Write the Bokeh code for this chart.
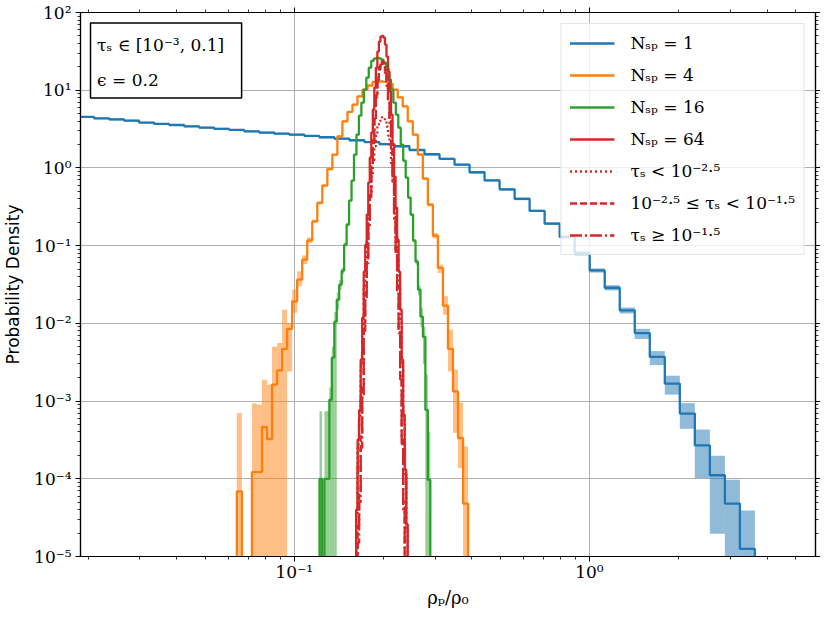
import numpy as np
from bokeh.plotting import figure
from bokeh.models import (FixedTicker, CustomJSTickFormatter, LogAxis, Legend,
                          LegendItem, BoxAnnotation, Label)
from bokeh.embed import file_html
from bokeh.resources import INLINE

# ---------------- data ----------------
# bin ranges: log10 of first/last edge, one value per bin
blue_edges_log = (-1.7294, 0.5611)
blue_vals = [4.53, 4.35, 4.22, 4.06, 3.83, 3.68, 3.57, 3.43, 3.30, 3.18,
             3.08, 2.96, 2.85, 2.76, 2.68, 2.58, 2.48, 2.38, 2.27, 2.15,
             2.02, 1.90, 1.70, 1.50, 1.31, 1.10, 0.88, 0.69, 0.53, 0.40,
             0.28, 0.192, 0.130, 0.080, 0.048, 0.0287, 0.0147, 0.0075, 0.0037, 0.00168,
             0.00069, 0.000269, 0.000111, 4.8e-5, 1.25e-5]
blue_hi = [4.66, 4.48, 4.35, 4.18, 3.94, 3.79, 3.68, 3.53, 3.40, 3.28,
           3.17, 3.05, 2.94, 2.84, 2.76, 2.66, 2.55, 2.45, 2.34, 2.21,
           2.08, 1.96, 1.75, 1.55, 1.35, 1.13, 0.91, 0.71, 0.55, 0.415,
           0.29, 0.200, 0.136, 0.085, 0.051, 0.031, 0.0160, 0.0085, 0.0044, 0.00212,
           0.00094, 0.00043, 0.000198, 9.7e-5, 3.9e-5]
blue_lo = [4.40, 4.22, 4.09, 3.94, 3.72, 3.57, 3.46, 3.33, 3.20, 3.08,
           2.99, 2.87, 2.76, 2.68, 2.60, 2.50, 2.41, 2.31, 2.20, 2.09,
           1.96, 1.84, 1.65, 1.45, 1.27, 1.07, 0.85, 0.67, 0.51, 0.385,
           0.27, 0.184, 0.124, 0.075, 0.045, 0.0265, 0.0134, 0.0063, 0.0029, 0.00121,
           0.00044, 0.000102, 1.96e-5, 0, 0]

orange_edges_log = (-1.1946, -0.411)
orange_vals = [6.9e-5, 0, 0, 1.22e-4, 1.22e-4, 4.64e-4, 3.25e-4, 1.63e-3, 2.48e-3, 4.69e-3,
               8.47e-3, 0.0192, 0.0365, 0.066, 0.117, 0.205, 0.355, 0.592, 0.966, 1.48,
               2.55, 3.98, 5.26, 6.53, 8.34, 10.2, 11.5, 12.8, 13.0, 12.8,
               12.1, 10.2, 8.1, 6.2, 3.98, 2.68, 1.48, 0.73, 0.337, 0.134,
               0.0516, 0.0169, 4.69e-3, 1.33e-3, 3.35e-4, 4.8e-5]
orange_hi = [7.0e-4, 0, 0, 9.4e-4, 9.0e-4, 1.88e-3, 1.63e-3, 5.0e-3, 5.6e-3, 0.0150,
             0.0101, 0.0272, 0.0467, 0.075, 0.127, 0.215, 0.37, 0.61, 0.99, 1.52,
             2.62, 4.08, 5.38, 6.68, 8.52, 10.4, 11.7, 13.0, 13.2, 13.0,
             12.35, 10.4, 8.3, 6.35, 4.08, 2.76, 1.53, 0.76, 0.355, 0.145,
             0.0569, 0.0223, 8.3e-3, 2.54e-3, 9.5e-4, 2.6e-4]
orange_lo = [0, 0, 0, 0, 0, 0, 0, 0, 0, 0,
             2.4e-3, 0.0137, 0.030, 0.058, 0.108, 0.195, 0.34, 0.575, 0.94, 1.44,
             2.48, 3.88, 5.14, 6.38, 8.16, 10.0, 11.3, 12.6, 12.8, 12.6,
             11.85, 10.0, 7.9, 6.05, 3.88, 2.6, 1.43, 0.70, 0.32, 0.124,
             0.0445, 0.0129, 2.4e-3, 3.9e-4, 1.38e-4, 0]

green_edges_log = (-0.9144, -0.539)
green_vals = [1.0e-4, 0, 1.0e-4, 1.0e-4, 1.04e-3, 3.62e-3, 0.0105, 0.0202, 0.0315, 0.0477,
              0.103, 0.186, 0.379, 0.686, 1.48, 2.68, 4.71, 6.92, 10.2, 14.5,
              19.5, 23.8, 25.5, 26.1, 25.7, 24.8, 22.7, 19.0, 13.7, 10.2,
              6.92, 4.85, 3.30, 2.0, 1.24, 0.75, 0.415, 0.25, 0.116, 0.0622,
              0.0272, 0.0122, 6.7e-3, 7.7e-4, 9.7e-5]
green_hi = [7.4e-4, 0, 7.4e-4, 7.5e-4, 1.5e-3, 5.0e-3, 0.014, 0.025, 0.036, 0.052,
            0.109, 0.195, 0.39, 0.70, 1.51, 2.73, 4.8, 7.05, 10.4, 14.8,
            19.9, 24.3, 26.0, 26.6, 26.2, 25.3, 23.2, 19.4, 14.0, 10.4,
            7.05, 4.95, 3.37, 2.04, 1.27, 0.77, 0.43, 0.26, 0.122, 0.067,
            0.031, 0.016, 9.0e-3, 2.2e-3, 4.0e-4]
green_lo = [0, 0, 0, 0, 0, 0, 0, 0.015, 0.027, 0.043,
            0.097, 0.177, 0.368, 0.672, 1.45, 2.63, 4.62, 6.79, 10.0, 14.2,
            19.1, 23.3, 25.0, 25.6, 25.2, 24.3, 22.2, 18.6, 13.4, 10.0,
            6.79, 4.75, 3.23, 1.96, 1.21, 0.73, 0.40, 0.24, 0.110, 0.057,
            0.023, 9.0e-3, 3.0e-3, 0, 0]

red_edges_log = (-0.7904, -0.6155)
red_vals = [4.0e-5, 3.2e-4, 7.7e-4, 3.4e-3, 0.0118, 0.0463, 0.103, 0.251, 0.647, 1.36,
            2.85, 5.63, 10.8, 19.5, 31.4, 42.2, 49.0, 50.0, 47.5, 38.6,
            27.1, 17.3, 9.6, 4.85, 2.0, 0.773, 0.308, 0.119, 0.0463, 0.015,
            3.4e-3, 6.7e-4, 1.31e-4, 2.6e-5]
red_hi = [1.5e-4, 6.0e-4, 1.1e-3, 4.0e-3, 0.0128, 0.048, 0.106, 0.258, 0.665, 1.40,
          2.93, 5.78, 11.1, 20.0, 32.2, 43.3, 50.3, 51.3, 48.7, 39.6,
          27.8, 17.8, 9.85, 4.98, 2.06, 0.795, 0.318, 0.123, 0.048, 0.0158,
          3.8e-3, 8.5e-4, 3.0e-4, 1.2e-4]
red_lo = [0, 1.2e-4, 4.5e-4, 2.8e-3, 0.0108, 0.0445, 0.100, 0.244, 0.629, 1.32,
          2.77, 5.48, 10.5, 19.0, 30.6, 41.1, 47.7, 48.7, 46.3, 37.6,
          26.4, 16.8, 9.35, 4.72, 1.94, 0.751, 0.298, 0.115, 0.0445, 0.0142,
          3.0e-3, 5.0e-4, 2e-5, 0]
red_small = [3.5e-5, 2.8e-4, 6.5e-4, 2.8e-3, 9.0e-3, 0.028, 0.058, 0.12, 0.25, 0.45,
             0.80, 1.25, 1.90, 2.70, 3.40, 4.00, 4.40, 4.50, 4.40, 4.00,
             3.40, 2.60, 1.80, 1.10, 0.62, 0.30, 0.14, 0.065, 0.030, 0.011,
             2.8e-3, 5.8e-4, 1.15e-4, 2.3e-5]
red_mid = [3e-6, 2.5e-5, 7e-5, 3.5e-4, 1.6e-3, 0.010, 0.025, 0.072, 0.22, 0.49,
           1.10, 2.30, 4.6, 8.7, 14.5, 19.8, 23.1, 23.6, 22.4, 18.0,
           12.4, 7.7, 4.1, 2.0, 0.74, 0.25, 0.09, 0.029, 8.5e-3, 2.1e-3,
           3.2e-4, 5e-5, 9e-6, 2e-6]
red_large = [2e-6, 1.5e-5, 5e-5, 2.5e-4, 1.2e-3, 0.008, 0.020, 0.059, 0.18, 0.42,
             0.95, 2.08, 4.3, 8.1, 13.5, 18.4, 21.5, 21.9, 20.7, 16.6,
             11.3, 7.0, 3.7, 1.75, 0.64, 0.22, 0.08, 0.025, 7.5e-3, 1.9e-3,
             2.8e-4, 4e-5, 7e-6, 1e-6]

series_labels = ["Nₛₚ = 1", "Nₛₚ = 4", "Nₛₚ = 16", "Nₛₚ = 64"]
tau_labels = ["τₛ < 10⁻²·⁵", "10⁻²·⁵ ≤ τₛ < 10⁻¹·⁵", "τₛ ≥ 10⁻¹·⁵"]
x_tick_values = [0.1, 1.0]
x_tick_labels = ["10⁻¹", "10⁰"]
y_tick_values = [1e-5, 1e-4, 1e-3, 1e-2, 1e-1, 1e0, 1e1, 1e2]
y_tick_labels = ["10⁻⁵", "10⁻⁴", "10⁻³", "10⁻²", "10⁻¹", "10⁰", "10¹", "10²"]
box_lines = ["τₛ ∈ [10⁻³, 0.1]", "ϵ = 0.2"]

# ---------------- styling ----------------
C_BLUE, C_ORANGE, C_GREEN, C_RED = "#1f77b4", "#ff7f0e", "#2ca02c", "#d62728"
FLOOR = 1e-9
LW = 2.3
SERIF = "DejaVu Serif"

def edges_of(rng, n):
    return np.logspace(rng[0], rng[1], n + 1)

def step_xy(edges, vals):
    v = np.where(np.asarray(vals, float) > 0, vals, FLOOR)
    xs = np.repeat(edges, 2)
    ys = np.concatenate([[FLOOR], np.repeat(v, 2), [FLOOR]])
    return xs, ys

def floored(a):
    a = np.asarray(a, float)
    return np.where(a > 0, a, FLOOR)

p = figure(width=820, height=610, x_axis_type="log", y_axis_type="log",
           x_range=(0.01886, 5.84), y_range=(1e-5, 100),
           output_backend="svg", toolbar_location=None,
           min_border_left=79, min_border_right=0, min_border_top=12, min_border_bottom=0)
p.background_fill_color = "white"
p.outline_line_color = "black"
p.outline_line_width = 1.2

xminor = [m * 10.0 ** e for e in range(-2, 1) for m in range(2, 10)]
yminor = [m * 10.0 ** e for e in range(-5, 2) for m in range(2, 10)]
xticker = FixedTicker(ticks=x_tick_values, minor_ticks=xminor)
yticker = FixedTicker(ticks=y_tick_values, minor_ticks=yminor)
blank = CustomJSTickFormatter(code="return '';")

def style_axis(ax, labels=True):
    ax.axis_line_color = "black"
    ax.axis_line_width = 1.2
    ax.major_tick_out = 5
    ax.major_tick_in = 0
    ax.minor_tick_out = 3
    ax.minor_tick_in = 0
    ax.major_tick_line_color = "black"
    ax.minor_tick_line_color = "black"
    ax.major_tick_line_width = 1
    ax.minor_tick_line_width = 0.8
    if labels:
        ax.major_label_text_font = SERIF
        ax.major_label_text_font_size = "17px"
        ax.major_label_text_color = "black"
    else:
        ax.formatter = blank
        ax.major_label_text_font_size = "2px"
        ax.major_label_standoff = 0
        ax.axis_label_standoff = 0

p.xaxis.ticker = xticker
p.yaxis.ticker = yticker
style_axis(p.xaxis[0])
style_axis(p.yaxis[0])
p.xaxis.major_label_overrides = {v: t for v, t in zip(x_tick_values, x_tick_labels)}
p.yaxis.major_label_overrides = {v: t for v, t in zip(y_tick_values, y_tick_labels)}
p.xaxis.major_label_standoff = 0
p.yaxis.major_label_standoff = 4
p.xaxis.axis_label = "ρₚ/ρ₀"
p.xaxis.axis_label_text_font = SERIF
p.xaxis.axis_label_text_font_style = "normal"
p.xaxis.axis_label_text_font_size = "18px"
p.xaxis.axis_label_text_color = "black"
p.xaxis.axis_label_standoff = 2
p.yaxis.axis_label = "Probability Density"
p.yaxis.axis_label_text_font = "DejaVu Sans"
p.yaxis.axis_label_text_font_style = "normal"
p.yaxis.axis_label_text_font_size = "17px"
p.yaxis.axis_label_text_color = "black"
p.yaxis.axis_label_standoff = 8

top_ax = LogAxis(ticker=FixedTicker(ticks=x_tick_values, minor_ticks=xminor))
style_axis(top_ax, labels=False)
p.add_layout(top_ax, "above")
right_ax = LogAxis(ticker=FixedTicker(ticks=y_tick_values, minor_ticks=yminor))
style_axis(right_ax, labels=False)
p.add_layout(right_ax, "right")

p.xgrid.ticker = xticker
p.ygrid.ticker = yticker
p.xgrid.grid_line_color = "#b0b0b0"
p.ygrid.grid_line_color = "#b0b0b0"
p.xgrid.grid_line_width = 1
p.ygrid.grid_line_width = 1
p.xgrid.minor_grid_line_color = None
p.ygrid.minor_grid_line_color = None

main_renderers = []
for rng, vals, hi, lo, col in [
        (blue_edges_log, blue_vals, blue_hi, blue_lo, C_BLUE),
        (orange_edges_log, orange_vals, orange_hi, orange_lo, C_ORANGE),
        (green_edges_log, green_vals, green_hi, green_lo, C_GREEN),
        (red_edges_log, red_vals, red_hi, red_lo, C_RED)]:
    e = edges_of(rng, len(vals))
    p.quad(left=e[:-1], right=e[1:], bottom=floored(lo), top=floored(hi),
           fill_color=col, fill_alpha=0.5, line_color=None)
    xs, ys = step_xy(e, vals)
    r = p.line(xs, ys, line_color=col, line_width=LW)
    main_renderers.append(r)

tau_renderers = []
red_e = edges_of(red_edges_log, len(red_vals))
for vals, dash in [(red_small, "2 3"), (red_mid, "7 3"), (red_large, "12 3 2 3")]:
    xs, ys = step_xy(red_e, vals)
    r = p.line(xs, ys, line_color=C_RED, line_width=LW, line_dash=dash)
    tau_renderers.append(r)

items = [LegendItem(label=l, renderers=[r]) for l, r in zip(series_labels, main_renderers)]
items += [LegendItem(label=l, renderers=[r]) for l, r in zip(tau_labels, tau_renderers)]
legend = Legend(items=items, location="top_right",
                label_text_font=SERIF, label_text_font_size="17px",
                label_text_color="black",
                glyph_width=45, glyph_height=22, label_height=22,
                spacing=10, padding=8, margin=11, label_standoff=16,
                border_line_color="#cccccc", border_line_width=1,
                background_fill_color="white", background_fill_alpha=0.8)
p.add_layout(legend)

# annotation box (top-left)
p.add_layout(BoxAnnotation(left=0.02039, right=0.0663, bottom=7.96, top=73.5,
                           fill_color="white", fill_alpha=1.0,
                           line_color="black", line_alpha=1.0, line_width=1.5))
p.add_layout(Label(x=0.02147, y=38.6, text=box_lines[0], text_baseline="middle",
                   text_font=SERIF, text_font_size="17px", text_color="black"))
p.add_layout(Label(x=0.02147, y=13.7, text=box_lines[1], text_baseline="middle",
                   text_font=SERIF, text_font_size="17px", text_color="black"))

open("out.html", "w").write(file_html(p, INLINE))
